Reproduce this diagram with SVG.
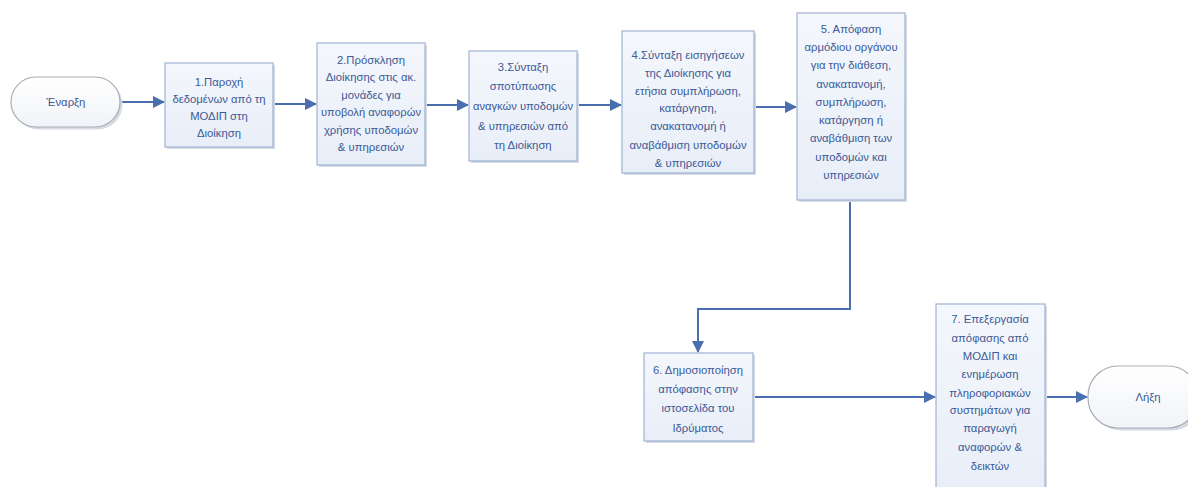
<svg xmlns="http://www.w3.org/2000/svg" width="1188" height="487" viewBox="0 0 1188 487">
<defs>
<linearGradient id="boxg" x1="0" y1="0" x2="0" y2="1">
<stop offset="0" stop-color="#f4f7fc"/>
<stop offset="1" stop-color="#e8eef8"/>
</linearGradient>
<linearGradient id="termg" x1="0" y1="0" x2="0" y2="1">
<stop offset="0" stop-color="#ffffff"/>
<stop offset="1" stop-color="#f1f3f7"/>
</linearGradient>
<marker id="arr" viewBox="0 0 12 12" refX="11" refY="6" markerWidth="12" markerHeight="12" markerUnits="userSpaceOnUse" orient="auto">
<path d="M0,0 L12,6 L0,12 z" fill="#4a6fae"/>
</marker>
</defs>
<style>
.box{fill:url(#boxg);stroke:#9fb2d4;stroke-width:1.2}
.sh{fill:#d5dae3}
.term{fill:url(#termg);stroke:#a9adb6;stroke-width:1.2}
.t{font-family:"Liberation Sans","Noto Sans",sans-serif;font-size:11.3px;fill:#3b5a97;text-anchor:middle}
.c{fill:none;stroke:#4a6fae;stroke-width:2}
</style>
<rect width="1188" height="487" fill="#ffffff"/>
<g id="connectors">
<line class="c" x1="121" y1="102" x2="164" y2="102" marker-end="url(#arr)"/>
<line class="c" x1="274" y1="104" x2="316" y2="104" marker-end="url(#arr)"/>
<line class="c" x1="426" y1="105" x2="468" y2="105" marker-end="url(#arr)"/>
<line class="c" x1="578" y1="105" x2="621" y2="105" marker-end="url(#arr)"/>
<line class="c" x1="755" y1="107" x2="796" y2="107" marker-end="url(#arr)"/>
<polyline class="c" points="850,201 850,309 698,309 698,352" marker-end="url(#arr)"/>
<line class="c" x1="754" y1="397" x2="935" y2="397" marker-end="url(#arr)"/>
<line class="c" x1="1046" y1="397" x2="1087" y2="397" marker-end="url(#arr)"/>
</g>
<g id="start">
<rect x="12" y="78" width="109" height="50" rx="25" class="sh" transform="translate(1.5,1.5)"/>
<rect x="11" y="77" width="109" height="50" rx="25" class="term"/>
<text class="t" x="66" y="106">Έναρξη</text>
</g>
<g id="n1">
<rect x="167" y="65" width="108" height="84" class="sh"/>
<rect x="165" y="63" width="108" height="84" class="box"/>
<text class="t" x="219" y="86">1.Παροχή</text>
<text class="t" x="219" y="103">δεδομένων από τη</text>
<text class="t" x="219" y="120">ΜΟΔΙΠ στη</text>
<text class="t" x="219" y="137">Διοίκηση</text>
</g>
<g id="n2">
<rect x="319" y="45" width="108" height="122" class="sh"/>
<rect x="317" y="43" width="108" height="122" class="box"/>
<text class="t" x="371" y="64">2.Πρόσκληση</text>
<text class="t" x="371" y="81">Διοίκησης στις ακ.</text>
<text class="t" x="371" y="99">μονάδες για</text>
<text class="t" x="371" y="116" textLength="100" lengthAdjust="spacingAndGlyphs">υποβολή αναφορών</text>
<text class="t" x="371" y="134">χρήσης υποδομών</text>
<text class="t" x="371" y="151">&amp; υπηρεσιών</text>
</g>
<g id="n3">
<rect x="471" y="53" width="108" height="110" class="sh"/>
<rect x="469" y="51" width="108" height="110" class="box"/>
<text class="t" x="523" y="71">3.Σύνταξη</text>
<text class="t" x="523" y="90">σποτύπωσης</text>
<text class="t" x="523" y="110" textLength="100" lengthAdjust="spacingAndGlyphs">αναγκών υποδομών</text>
<text class="t" x="523" y="130">&amp; υπηρεσιών από</text>
<text class="t" x="523" y="149">τη Διοίκηση</text>
</g>
<g id="n4">
<rect x="624" y="33" width="132" height="142" class="sh"/>
<rect x="622" y="31" width="132" height="142" class="box"/>
<text class="t" x="688" y="59">4.Σύνταξη εισηγήσεων</text>
<text class="t" x="688" y="77">της Διοίκησης για</text>
<text class="t" x="688" y="95">ετήσια συμπλήρωση,</text>
<text class="t" x="688" y="112">κατάργηση,</text>
<text class="t" x="688" y="130">ανακατανομή ή</text>
<text class="t" x="688" y="149">αναβάθμιση υποδομών</text>
<text class="t" x="688" y="167">&amp; υπηρεσιών</text>
</g>
<g id="n5">
<rect x="799" y="15" width="108" height="187" class="sh"/>
<rect x="797" y="13" width="108" height="187" class="box"/>
<text class="t" x="851" y="33">5. Απόφαση</text>
<text class="t" x="851" y="51">αρμόδιου οργάνου</text>
<text class="t" x="851" y="69">για την διάθεση,</text>
<text class="t" x="851" y="88">ανακατανομή,</text>
<text class="t" x="851" y="106">συμπλήρωση,</text>
<text class="t" x="851" y="124">κατάργηση ή</text>
<text class="t" x="851" y="142">αναβάθμιση των</text>
<text class="t" x="851" y="161">υποδομών και</text>
<text class="t" x="851" y="179">υπηρεσιών</text>
</g>
<g id="n6">
<rect x="646" y="355" width="109" height="88" class="sh"/>
<rect x="644" y="353" width="109" height="88" class="box"/>
<text class="t" x="698" y="374">6. Δημοσιοποίηση</text>
<text class="t" x="698" y="393">απόφασης στην</text>
<text class="t" x="698" y="412">ιστοσελίδα του</text>
<text class="t" x="698" y="432">Ιδρύματος</text>
</g>
<g id="n7">
<rect x="938" y="306" width="109" height="190" class="sh"/>
<rect x="936" y="304" width="109" height="190" class="box"/>
<text class="t" x="990" y="323">7. Επεξεργασία</text>
<text class="t" x="990" y="342">απόφασης από</text>
<text class="t" x="990" y="360">ΜΟΔΙΠ και</text>
<text class="t" x="990" y="378">ενημέρωση</text>
<text class="t" x="990" y="397">πληροφοριακών</text>
<text class="t" x="990" y="414">συστημάτων για</text>
<text class="t" x="990" y="432">παραγωγή</text>
<text class="t" x="990" y="451">αναφορών &amp;</text>
<text class="t" x="990" y="470">δεικτών</text>
</g>
<g id="end">
<rect x="1090" y="367" width="110" height="62" rx="30" class="sh" transform="translate(1.5,1.5)"/>
<rect x="1088" y="366" width="110" height="62" rx="30" class="term"/>
<text class="t" x="1148" y="401">Λήξη</text>
</g>
</svg>
